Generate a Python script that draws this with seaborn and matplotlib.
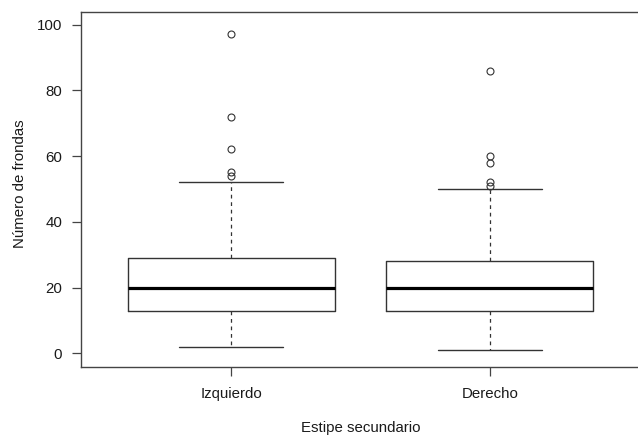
import numpy as np
import pandas as pd
import matplotlib
matplotlib.use("Agg")
import matplotlib.pyplot as plt
import seaborn as sns

categories = ["Izquierdo", "Derecho"]
izquierdo = [2, 5, 7, 8, 10, 11, 12, 12, 13, 14, 15, 16, 17, 18, 19, 20, 20,
             21, 22, 24, 25, 26, 27, 28, 29, 36, 44, 52, 54, 55, 62, 72, 97]
derecho = [1, 4, 6, 8, 9, 11, 12, 12, 13, 14, 15, 16, 17, 18, 19, 20, 20,
           21, 22, 23, 24, 25, 26, 27, 28, 34, 42, 50, 51, 52, 58, 60, 86]
y_ticks = [0, 20, 40, 60, 80, 100]

df = pd.DataFrame({
    "lado": [categories[0]] * len(izquierdo) + [categories[1]] * len(derecho),
    "frondas": izquierdo + derecho,
})

sns.set_theme(style="white")
plt.rcParams["font.family"] = ["Liberation Sans", "DejaVu Sans"]

W, H = 638, 437
fig = plt.figure(figsize=(W / 100, H / 100), dpi=100)
left, right, top, bottom = 81, 640, 11.7, 366.7
ax = fig.add_axes([left / W, 1 - bottom / H, (right - left) / W, (bottom - top) / H])

lc = "#333333"
sns.boxplot(
    data=df, x="lado", y="frondas", order=categories, ax=ax,
    width=0.8, whis=1.5, fill=False, color=lc, linewidth=1.0,
    boxprops=dict(color=lc, linewidth=1.0),
    medianprops=dict(color="black", linewidth=2.3),
    whiskerprops=dict(color=lc, linewidth=0.9, linestyle=(0, (3, 3))),
    capprops=dict(color=lc, linewidth=1.0),
    flierprops=dict(marker="o", markersize=5, markerfacecolor="none",
                    markeredgecolor=lc, markeredgewidth=0.8),
)

ax.set_xlim(-0.58, 1.58)
ax.set_ylim(-4.07, 103.9)
ax.set_yticks(y_ticks)
ax.set_yticklabels([str(v) for v in y_ticks])

for s in ax.spines.values():
    s.set_visible(True)
    s.set_color("#444444")
    s.set_linewidth(1.0)

fs = 10.8
ax.tick_params(axis="both", which="both", direction="out", length=6.5, width=0.9,
               color="#444444", labelsize=fs, labelcolor="#1a1a1a",
               left=True, bottom=True)
ax.tick_params(axis="y", pad=7)
ax.tick_params(axis="x", pad=8)

ax.set_xlabel("Estipe secundario", fontsize=fs, color="#1a1a1a")
ax.set_ylabel("Número de frondas", fontsize=fs, color="#1a1a1a")
ax.xaxis.set_label_coords(0.5, -(428 - bottom) / (bottom - top), transform=ax.transAxes)
ax.yaxis.set_label_coords((20 - left) / (right - left), (bottom - 184) / (bottom - top))
ax.xaxis.label.set_va("center")
ax.yaxis.label.set_va("center")

fig.savefig("out.png", dpi=100, facecolor="white")
